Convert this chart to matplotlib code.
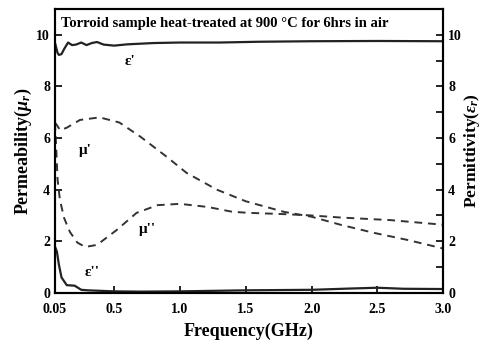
import numpy as np
import matplotlib
matplotlib.use("Agg")
import matplotlib.pyplot as plt
from matplotlib import rcParams
from matplotlib.ticker import MultipleLocator

rcParams['font.family'] = 'Liberation Serif'
rcParams['font.weight'] = 'bold'
rcParams['axes.labelweight'] = 'bold'
rcParams['mathtext.fontset'] = 'custom'
rcParams['mathtext.rm'] = 'Liberation Serif:bold'
rcParams['mathtext.it'] = 'Liberation Serif:italic:bold'
rcParams['mathtext.bf'] = 'Liberation Serif:bold'

# epsilon' (permittivity, real part)
f_eps1 = [0.05, 0.06, 0.07, 0.08, 0.10, 0.12, 0.15, 0.18, 0.21, 0.25, 0.29, 0.33,
          0.37, 0.42, 0.5, 0.6, 0.8, 1.0, 1.3, 1.6, 2.0, 2.5, 3.0]
eps1 = [9.7, 9.5, 9.3, 9.22, 9.25, 9.45, 9.7, 9.6, 9.62, 9.7, 9.6, 9.68,
        9.72, 9.62, 9.58, 9.63, 9.68, 9.7, 9.7, 9.73, 9.75, 9.76, 9.75]

# epsilon'' (permittivity, imaginary part)
f_eps2 = [0.05, 0.065, 0.08, 0.1, 0.14, 0.2, 0.25, 0.3, 0.4, 0.5, 0.7, 1.0,
          1.5, 2.0, 2.3, 2.5, 2.7, 3.0]
eps2 = [1.8, 1.6, 1.1, 0.6, 0.3, 0.28, 0.12, 0.1, 0.08, 0.06, 0.05, 0.06,
        0.1, 0.12, 0.17, 0.2, 0.16, 0.15]

# mu' (permeability, real part)
f_mu1 = [0.05, 0.065, 0.09, 0.14, 0.24, 0.39, 0.54, 0.70, 0.9, 1.05, 1.28, 1.5,
         1.79, 2.0, 2.22, 2.47, 2.73, 3.0]
mu1 = [6.6, 6.5, 6.3, 6.4, 6.7, 6.8, 6.6, 6.05, 5.27, 4.65, 4.0, 3.55,
       3.14, 2.95, 2.64, 2.33, 2.05, 1.72]

# mu'' (permeability, imaginary part)
f_mu2 = [0.05, 0.06, 0.07, 0.088, 0.12, 0.164, 0.22, 0.28, 0.37, 0.52, 0.67, 0.83,
         1.0, 1.21, 1.4, 1.53, 1.8, 2.0, 2.22, 2.6, 3.0]
mu2 = [6.6, 5.6, 4.4, 3.6, 2.9, 2.36, 1.95, 1.78, 1.86, 2.44, 3.1, 3.4,
       3.45, 3.33, 3.14, 3.1, 3.05, 3.0, 2.92, 2.82, 2.64]

fig = plt.figure(figsize=(4.86, 3.45), dpi=100)
ax = fig.add_axes([0.113, 0.151, 0.799, 0.823])

ax.plot(f_eps1, eps1, color='#222222', lw=1.6)
ax.plot(f_eps2, eps2, color='#222222', lw=1.6)
ax.plot(f_mu1, mu1, color='#333333', lw=1.4, ls=(0, (4, 3)))
ax.plot(f_mu2, mu2, color='#333333', lw=1.4, ls=(0, (4, 3)))

ax.set_xlim(0.05, 3.0)
ax.set_ylim(0, 11.0)
ax.set_xticks([0.05, 0.5, 1.0, 1.5, 2.0, 2.5, 3.0])
ax.set_xticklabels(['0.05', '0.5', '1.0', '1.5', '2.0', '2.5', '3.0'])
ax.set_yticks([0, 2, 4, 6, 8, 10])
ax.tick_params(axis='both', direction='in', labelsize=10, width=1.2, length=5)
ax.tick_params(axis='x', pad=7)

ax2 = ax.twinx()
ax2.set_ylim(0, 11.0)
ax2.set_yticks([0, 2, 4, 6, 8, 10])
ax2.yaxis.set_minor_locator(MultipleLocator(1))
ax2.tick_params(which='both', direction='in', labelsize=10, width=1.2, length=5)

for a in (ax, ax2):
    for s in a.spines.values():
        s.set_linewidth(1.5)

ax.set_xlabel('Frequency(GHz)', fontsize=13, labelpad=5)
ax.set_ylabel(r'Permeability($\mu_r$)', fontsize=13, labelpad=2)
ax2.set_ylabel(r'Permittivity($\epsilon_r$)', fontsize=12.5, rotation=90, labelpad=0)

ax.text(0.1, 10.45, 'Torroid sample heat-treated at 900 \u00b0C for 6hrs in air',
        fontsize=10.5, va='center')
ax.text(0.62, 8.95, "\u03b5'", fontsize=11, ha='center', va='center')
ax.text(0.28, 5.5, "\u03bc'", fontsize=11, ha='center', va='center')
ax.text(0.75, 2.45, "\u03bc''", fontsize=11, ha='center', va='center')
ax.text(0.33, 0.78, "\u03b5''", fontsize=11, ha='center', va='center')

fig.savefig('out.png', dpi=100)
